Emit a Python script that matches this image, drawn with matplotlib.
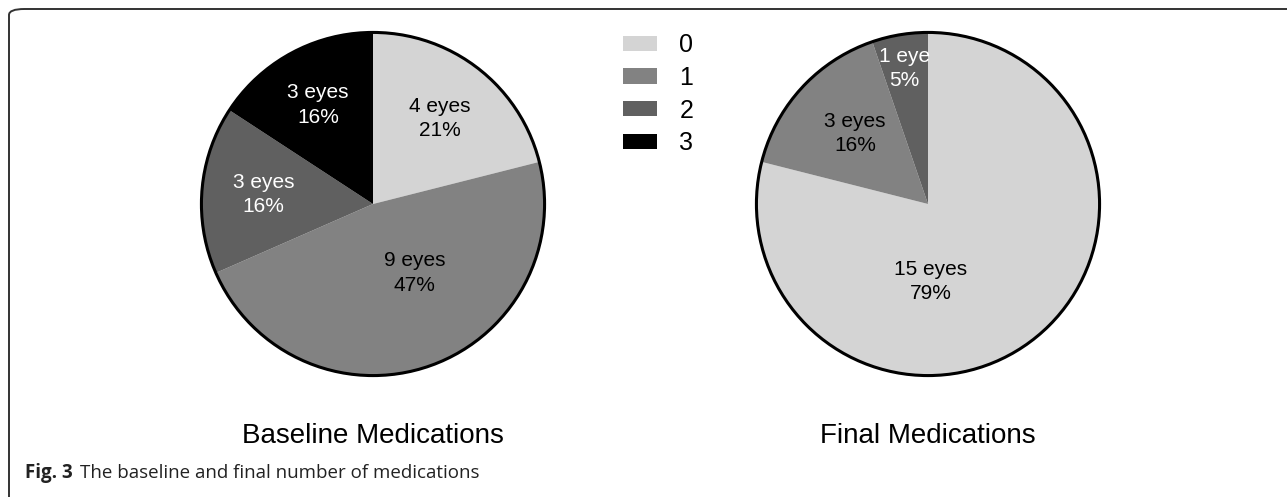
import numpy as np
import matplotlib.pyplot as plt
from matplotlib.patches import Circle, FancyBboxPatch

plt.rcParams['font.family'] = ['Liberation Sans', 'DejaVu Sans']

# medication counts per eye (0, 1, 2, 3 drugs)
categories = ["0", "1", "2", "3"]
baseline_eyes = [4, 9, 3, 3]
final_eyes = [15, 3, 1, 0]
titles = ["Baseline Medications", "Final Medications"]
caption_bold = "Fig. 3"
caption_text = "The baseline and final number of medications"

colors = ["#d4d4d4", "#828282", "#606060", "#000000"]
text_colors = ["black", "black", "white", "white"]

# label placement (radius fraction, angle in degrees) for each slice
baseline_label_pos = [(0.63, 52), (0.47, -59), (0.64, 175), (0.66, 119)]
final_label_pos = [(0.45, -88), (0.59, 136), (0.80, 100), None]

W, H = 1287, 497
fig = plt.figure(figsize=(W / 100, H / 100), dpi=100)

# open frame with rounded top-left corner
frame = FancyBboxPatch((9 / W, -20 / H), 1.2, (H - 9 + 20) / H,
                       boxstyle="round,pad=0,rounding_size=0.012",
                       transform=fig.transFigure, fill=False,
                       edgecolor="#333333", linewidth=1.4, clip_on=False)
fig.patches.append(frame)

R = 175
centers = [(373, 204), (928, 204)]


def draw_pie(cx, cy, counts, label_pos, title):
    ax = fig.add_axes([(cx - R) / W, (H - cy - R) / H, 2 * R / W, 2 * R / H])
    wedges, _ = ax.pie(counts, colors=colors, startangle=90, counterclock=False,
                       radius=1, wedgeprops=dict(linewidth=0))
    ax.add_patch(Circle((0, 0), 1, fill=False, edgecolor="black", linewidth=2.2))
    total = sum(counts)
    for i, n in enumerate(counts):
        if n == 0 or label_pos[i] is None:
            continue
        r, ang = label_pos[i]
        pct = round(100 * n / total)
        unit = "eye" if n == 1 else "eyes"
        ax.text(r * np.cos(np.radians(ang)), r * np.sin(np.radians(ang)),
                f"{n} {unit}\n{pct}%", ha="center", va="center",
                fontsize=15, color=text_colors[i], linespacing=1.35)
    ax.set_xlim(-1.02, 1.02)
    ax.set_ylim(-1.02, 1.02)
    ax.set_aspect("equal")
    ax.axis("off")
    fig.text(cx / W, (H - 443) / H, title, ha="center", va="baseline", fontsize=20)
    return wedges


wedges = draw_pie(*centers[0], baseline_eyes, baseline_label_pos, titles[0])
draw_pie(*centers[1], final_eyes, final_label_pos, titles[1])

fig.legend(wedges, categories, loc="upper left",
           bbox_to_anchor=(623 / W, (H - 33) / H), frameon=False,
           fontsize=18, handlelength=1.36, handleheight=0.56,
           handletextpad=0.9, labelspacing=0.35, borderpad=0, borderaxespad=0)

fig.text(25 / W, (H - 478) / H, caption_bold, fontsize=13.5, fontweight="bold",
         family=["Open Sans", "DejaVu Sans"], va="baseline", color="#222222")
fig.text(80 / W, (H - 478) / H, caption_text, fontsize=13.5,
         family=["Open Sans", "DejaVu Sans"], va="baseline", color="#222222")

plt.savefig("out.png", dpi=100)
